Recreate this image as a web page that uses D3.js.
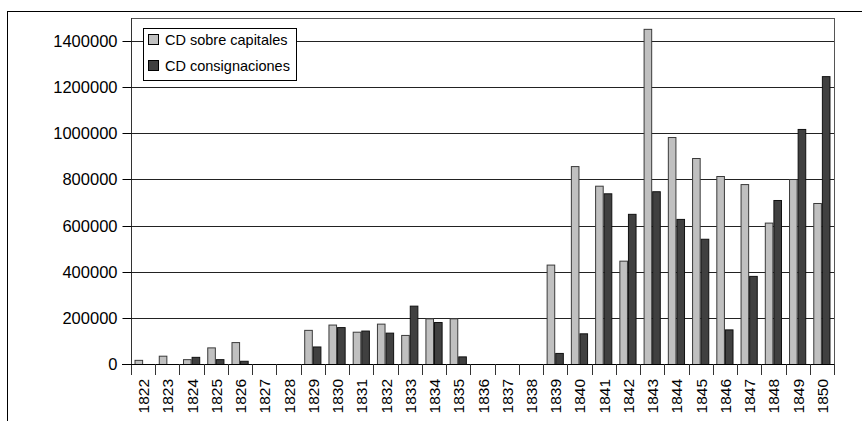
<!DOCTYPE html>
<html>
<head>
<meta charset="utf-8">
<script src="https://cdn.jsdelivr.net/npm/d3@7"></script>
<style>
  html, body { margin: 0; padding: 0; background: #fff; }
  svg { display: block; }
  text { font-family: "Liberation Sans", Arial, Helvetica, sans-serif; fill: #000; }
</style>
</head>
<body>
<svg id="chart" width="862" height="421"></svg>
<script>
// Years on the category axis
const years = ["1822","1823","1824","1825","1826","1827","1828","1829","1830","1831",
  "1832","1833","1834","1835","1836","1837","1838","1839","1840","1841",
  "1842","1843","1844","1845","1846","1847","1848","1849","1850"];

// Series values per year
const sobreCapitales = [18000, 36000, 21000, 72000, 95000, 0, 0, 148000, 171000, 140000,
  175000, 126000, 198000, 198000, 0, 0, 0, 431000, 858000, 773000,
  448000, 1453000, 984000, 893000, 815000, 780000, 613000, 802000, 698000];
const consignaciones = [0, 0, 31000, 21000, 14000, 0, 0, 76000, 160000, 145000,
  136000, 253000, 182000, 33000, 0, 0, 0, 48000, 133000, 740000,
  651000, 749000, 629000, 543000, 150000, 382000, 711000, 1019000, 1248000];

const seriesNames = ["CD sobre capitales", "CD consignaciones"];
const seriesColors = ["#c0c0c0", "#404040"];
const seriesStrokes = ["#3a3a3a", "#111111"];

// Value axis ticks
const yTicks = [0, 200000, 400000, 600000, 800000, 1000000, 1200000, 1400000];

const svg = d3.select("#chart");
const plot = { left: 131, top: 18, right: 834, bottom: 364 };

// Outer chart frame (runs past the right and bottom edges)
svg.append("rect")
  .attr("x", 7.5).attr("y", 11.5)
  .attr("width", 900).attr("height", 450)
  .attr("fill", "none").attr("stroke", "#000").attr("stroke-width", 1);

const x = d3.scaleBand().domain(years).range([plot.left, plot.right]).padding(0);
const xs = d3.scaleBand().domain([0, 1]).range([0, x.bandwidth()])
  .paddingInner(0).paddingOuter(0.41);
const y = d3.scaleLinear().domain([0, 1500000]).range([plot.bottom, plot.top]);

// Plot area border
svg.append("rect")
  .attr("x", plot.left + 0.5).attr("y", plot.top + 0.5)
  .attr("width", plot.right - plot.left).attr("height", plot.bottom - plot.top)
  .attr("fill", "none").attr("stroke", "#555").attr("stroke-width", 1);

// Horizontal gridlines
svg.append("g").selectAll("line")
  .data(yTicks.filter(d => d > 0))
  .join("line")
  .attr("x1", plot.left).attr("x2", plot.right)
  .attr("y1", d => Math.round(y(d)) + 0.5).attr("y2", d => Math.round(y(d)) + 0.5)
  .attr("stroke", "#222").attr("stroke-width", 1);

// Bars
const rows = years.map((yr, i) => ({ year: yr, values: [sobreCapitales[i], consignaciones[i]] }));
const groups = svg.append("g").selectAll("g")
  .data(rows)
  .join("g")
  .attr("transform", d => `translate(${x(d.year)},0)`);

groups.selectAll("rect")
  .data(d => d.values.map((v, k) => ({ k, v })).filter(e => e.v > 0))
  .join("rect")
  .attr("x", e => xs(e.k) + 0.5)
  .attr("y", e => y(e.v) + 0.5)
  .attr("width", xs.bandwidth() - 1)
  .attr("height", e => y(0) - y(e.v))
  .attr("fill", e => seriesColors[e.k])
  .attr("stroke", e => seriesStrokes[e.k])
  .attr("stroke-width", 1);

// Value axis
const yAxis = svg.append("g")
  .attr("transform", `translate(${plot.left + 0.5},0)`)
  .call(d3.axisLeft(y).tickValues(yTicks).tickFormat(d3.format("d")).tickSize(9).tickPadding(5));
yAxis.select(".domain").attr("stroke", "#333").attr("d", `M0,${plot.top}V${plot.bottom + 11}`);
yAxis.selectAll(".tick line").attr("stroke", "#000");
yAxis.selectAll(".tick text").style("font-size", "16.5px").attr("dy", "0.36em");
yAxis.selectAll(".tick").attr("transform", d => `translate(0,${Math.round(y(d)) + 0.5})`);

// Category axis with ticks on category boundaries
const xAxisG = svg.append("g");
xAxisG.append("line")
  .attr("x1", plot.left - 9).attr("x2", plot.right)
  .attr("y1", plot.bottom + 0.5).attr("y2", plot.bottom + 0.5)
  .attr("stroke", "#000");
xAxisG.selectAll("line.b")
  .data(years.slice(1).concat(["end"]))
  .join("line")
  .attr("class", "b")
  .attr("x1", (d, i) => Math.round(d === "end" ? plot.right : x(d)) + 0.5)
  .attr("x2", (d, i) => Math.round(d === "end" ? plot.right : x(d)) + 0.5)
  .attr("y1", plot.bottom).attr("y2", plot.bottom + 11)
  .attr("stroke", "#333");
xAxisG.selectAll("text")
  .data(years)
  .join("text")
  .attr("transform", d => `translate(${x(d) + x.bandwidth() / 2 + 6},${plot.bottom + 15}) rotate(-90)`)
  .attr("text-anchor", "end")
  .style("font-size", "15.5px")
  .text(d => d);

// Legend
const legend = svg.append("g");
legend.append("rect")
  .attr("x", 143.5).attr("y", 28.5).attr("width", 153).attr("height", 52)
  .attr("fill", "#fff").attr("stroke", "#000");
seriesNames.forEach((name, k) => {
  legend.append("rect")
    .attr("x", 148.5).attr("y", 34.5 + k * 26).attr("width", 10).attr("height", 10)
    .attr("fill", seriesColors[k]).attr("stroke", "#000");
  legend.append("text")
    .attr("x", 165).attr("y", 45 + k * 26)
    .style("font-size", "14.5px")
    .text(name);
});
</script>
</body>
</html>
